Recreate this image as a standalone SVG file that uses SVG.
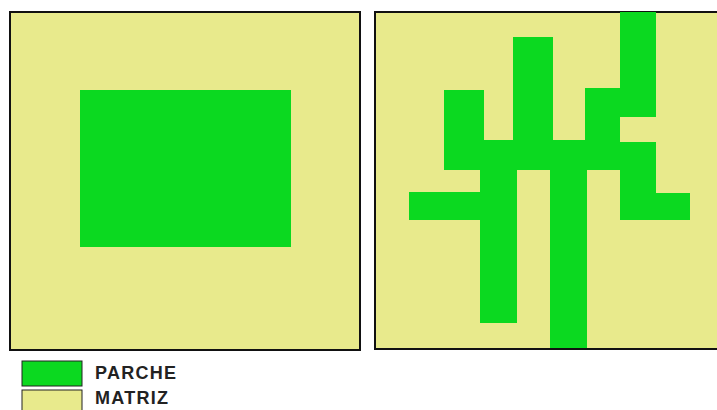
<svg xmlns="http://www.w3.org/2000/svg" width="717" height="410" viewBox="0 0 717 410">
<style>
.m{fill:#E8EA8C;stroke:#111;stroke-width:2}
.p{fill:#0BD920}
.lg{fill:#0BD920;stroke:#222;stroke-width:1}
.ly{fill:#E8EA8C;stroke:#222;stroke-width:1}
.t{font-family:"Liberation Sans",Arial,sans-serif;font-weight:bold;font-size:18px;fill:#222}
</style>
<rect width="717" height="410" fill="#fff"/>
<g id="panel-left">
<rect class="m" x="10" y="12" width="350" height="338"/>
<rect class="p" x="80" y="90" width="211" height="157"/>
</g>
<g id="panel-right">
<rect class="m" x="375" y="12" width="350" height="337"/>
<rect class="p" x="620" y="12" width="36" height="105"/>
<rect class="p" x="585" y="88" width="35" height="82"/>
<rect class="p" x="513" y="37" width="40" height="105"/>
<rect class="p" x="444" y="90" width="40" height="80"/>
<rect class="p" x="444" y="140" width="176" height="30"/>
<rect class="p" x="620" y="142" width="36" height="78"/>
<rect class="p" x="655" y="193" width="35" height="27"/>
<rect class="p" x="409" y="192" width="72" height="28"/>
<rect class="p" x="480" y="169" width="37" height="154"/>
<rect class="p" x="550" y="169" width="37" height="179"/>
</g>
<g id="legend">
<rect class="lg" x="22" y="361" width="60" height="25"/>
<text class="t" x="95" y="379" textLength="81">PARCHE</text>
<rect class="ly" x="22" y="390" width="60" height="25"/>
<text class="t" x="95" y="404" textLength="73">MATRIZ</text>
</g>
</svg>
